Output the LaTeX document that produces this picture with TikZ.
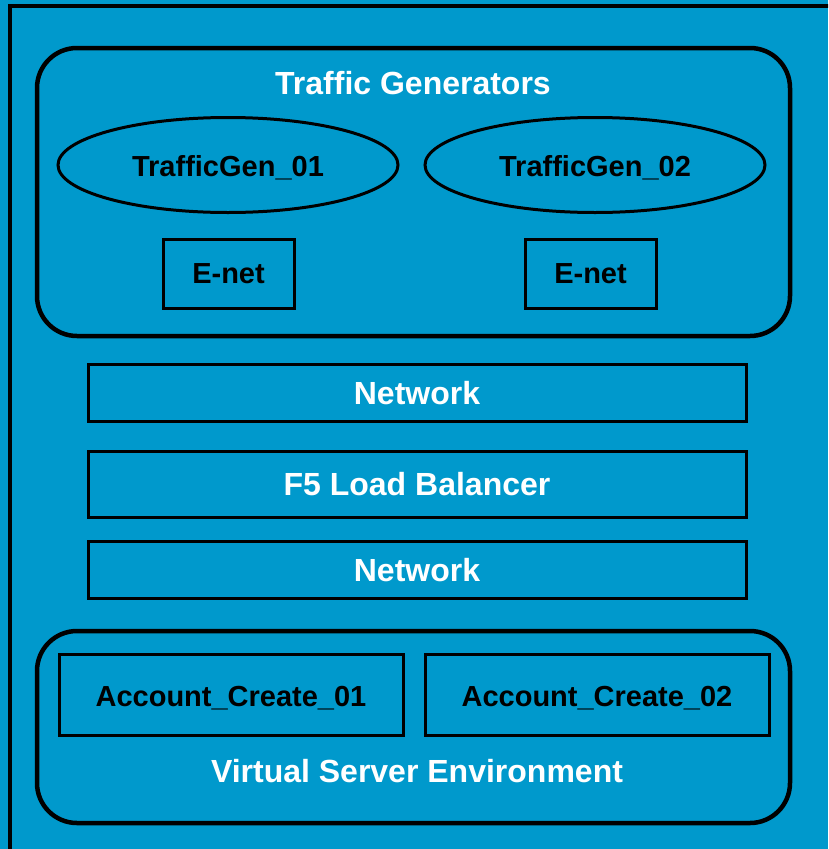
\documentclass[tikz,border=0pt]{standalone}
\usepackage{fontspec}
\setmainfont{Liberation Sans}
\usetikzlibrary{shapes.geometric}
\definecolor{panelblue}{RGB}{0,153,204}
\tikzset{
  group/.style={draw, line width=4.5pt, rounded corners=40pt},
  layer/.style={draw, line width=3pt, minimum width=658pt, font=\fontsize{32}{36}\selectfont\bfseries, text=white},
  tgen/.style={draw, ellipse, line width=3pt, minimum width=340pt, minimum height=95pt, font=\fontsize{29}{33}\selectfont\bfseries},
  port/.style={draw, line width=3pt, minimum width=131pt, minimum height=69pt, font=\fontsize{29}{33}\selectfont\bfseries},
  host/.style={draw, line width=3pt, minimum width=344pt, minimum height=81pt, font=\fontsize{29}{33}\selectfont\bfseries},
  title/.style={font=\fontsize{32}{36}\selectfont\bfseries, text=white},
  nudge/.style={text depth=0pt}
}
\begin{document}
\begin{tikzpicture}[x=1pt,y=-1pt]
\useasboundingbox (0,0) rectangle (828,849);
\clip (0,0) rectangle (828,849);
\fill[panelblue] (0,0) rectangle (828,849);
\draw[line width=4pt] (10,860) -- (10,6) -- (840,6);

% traffic generators
\node[group, minimum width=753pt, minimum height=288pt] (tgbox) at (413.5,192) {};
\node[title] (tgtitle) at (413,83) {Traffic Generators};
\node[tgen] (gen1) at (228,165) {};
\node[tgen] (gen2) at (595,165) {};
\node[font=\fontsize{29}{33}\selectfont\bfseries, nudge] (gen1txt) at (228,166) {TrafficGen\_01};
\node[font=\fontsize{29}{33}\selectfont\bfseries, nudge] (gen2txt) at (595,166) {TrafficGen\_02};
\node[port, nudge] (enet1) at (228.5,273.5) {E-net};
\node[port, nudge] (enet2) at (590.5,273.5) {E-net};

% layers
\node[layer, minimum height=57pt, nudge] (net1) at (417,392.5) {Network};
\node[layer, minimum height=66pt, nudge] (lb) at (417,484) {F5 Load Balancer};
\node[layer, minimum height=57pt, nudge] (net2) at (417,569.5) {Network};

% virtual servers
\node[group, minimum width=753pt, minimum height=192pt] (vsbox) at (413.5,727) {};
\node[host] (acc1) at (231,694.5) {};
\node[host] (acc2) at (597,694.5) {};
\node[font=\fontsize{29}{33}\selectfont\bfseries, nudge] (acc1txt) at (231,696) {Account\_Create\_01};
\node[font=\fontsize{29}{33}\selectfont\bfseries, nudge] (acc2txt) at (597,696) {Account\_Create\_02};
\node[title, nudge] (vstitle) at (417,771) {Virtual Server Environment};
\end{tikzpicture}
\end{document}
